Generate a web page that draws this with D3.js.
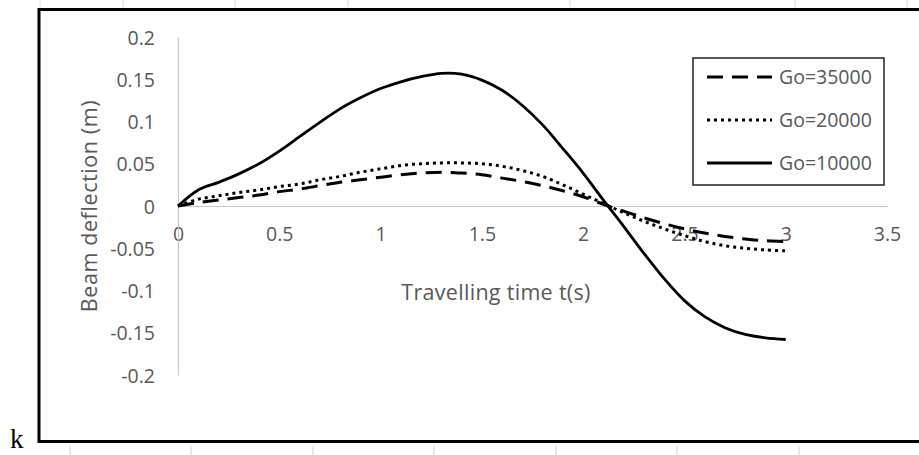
<!DOCTYPE html>
<html><head><meta charset="utf-8">
<script src="https://cdn.jsdelivr.net/npm/d3@7"></script>
<style>
html,body{margin:0;padding:0;background:#fff;}
svg{display:block;}
</style></head>
<body>
<svg id="chart" width="919" height="455"></svg>
<script>
// ---- data ----
const times = [0,0.1,0.2,0.3,0.4,0.5,0.6,0.7,0.8,0.9,1.0,1.1,1.2,1.3,1.4,1.5,1.6,1.7,1.8,1.9,2.0,2.1,2.2,2.3,2.4,2.5,2.6,2.7,2.8,2.9,3.0];
const go35000 = [0,0.004,0.007,0.010,0.013,0.017,0.020,0.024,0.028,0.031,0.034,0.037,0.039,0.040,0.039,0.037,0.033,0.029,0.024,0.018,0.011,0.002,-0.006,-0.014,-0.021,-0.027,-0.032,-0.036,-0.039,-0.041,-0.042];
const go20000 = [0,0.008,0.012,0.016,0.019,0.023,0.026,0.031,0.035,0.040,0.044,0.048,0.050,0.051,0.051,0.050,0.047,0.042,0.035,0.025,0.014,0.003,-0.008,-0.018,-0.027,-0.035,-0.042,-0.047,-0.050,-0.052,-0.053];
const go10000 = [0,0.019,0.028,0.038,0.050,0.065,0.082,0.099,0.115,0.128,0.139,0.147,0.153,0.157,0.156,0.149,0.137,0.119,0.096,0.068,0.039,0.007,-0.024,-0.056,-0.086,-0.112,-0.131,-0.144,-0.152,-0.156,-0.158];
const seriesNames = ["Go=35000","Go=20000","Go=10000"];
const xTicks = [0,0.5,1,1.5,2,2.5,3,3.5];
const xTickLabels = ["0","0.5","1","1.5","2","2.5","3","3.5"];
const yTicks = [0.2,0.15,0.1,0.05,0,-0.05,-0.1,-0.15,-0.2];
const yTickLabels = ["0.2","0.15","0.1","0.05","0","-0.05","-0.1","-0.15","-0.2"];
const xTitle = "Travelling time t(s)";
const yTitle = "Beam deflection (m)";

// ---- drawing ----
const svg = d3.select("#chart");
const FONT = "'Open Sans', 'DejaVu Sans', sans-serif";
const GRAY = "#595959";

const x = d3.scaleLinear().domain([0,3.5]).range([178,887]);
const y = d3.scaleLinear().domain([-0.2,0.2]).range([375,37]);

// faint crop marks outside frame
const bottomMarks = [70,191,313,434,556,677,799];
svg.selectAll("line.bm").data(bottomMarks).enter().append("line")
  .attr("x1",d=>d).attr("x2",d=>d).attr("y1",446).attr("y2",455)
  .attr("stroke","#d0d0d0").attr("stroke-width",1);
const topMarks = [40,123,235,348,570,795,907];
svg.selectAll("line.tm").data(topMarks).enter().append("line")
  .attr("x1",d=>d).attr("x2",d=>d).attr("y1",0).attr("y2",7)
  .attr("stroke","#d8d8d8").attr("stroke-width",1);

// outer frame
svg.append("rect").attr("x",39).attr("y",9.5).attr("width",900).attr("height",432)
  .attr("fill","none").attr("stroke","#000").attr("stroke-width",3);

// stray letter
svg.append("text").attr("x",10).attr("y",448)
  .attr("font-family","'Liberation Serif','DejaVu Serif',serif").attr("font-size",27)
  .attr("fill","#000").text("k");

// x axis
const xAxis = d3.axisBottom(x).tickValues(xTicks)
  .tickFormat((d,i)=>xTickLabels[i]).tickSize(0).tickSizeOuter(0);
const gx = svg.append("g").attr("transform",`translate(0,${y(0)})`).call(xAxis);
gx.select(".domain").attr("stroke","#c8c8c8").attr("stroke-width",1.2);
gx.selectAll("text").attr("y",35).attr("dy",0)
  .attr("font-family",FONT).attr("font-size",19.5).attr("fill",GRAY);

// y axis
const yAxis = d3.axisLeft(y).tickValues(yTicks)
  .tickFormat((d,i)=>yTickLabels[i]).tickSize(0).tickSizeOuter(0);
const gy = svg.append("g").attr("transform",`translate(${x(0)},0)`).call(yAxis);
gy.select(".domain").attr("stroke","#c8c8c8").attr("stroke-width",1.2);
gy.selectAll("text").attr("x",-23).attr("dy","0.36em")
  .attr("font-family",FONT).attr("font-size",19.5).attr("fill",GRAY);

// axis titles
svg.append("text").attr("x",496).attr("y",300).attr("text-anchor","middle")
  .attr("font-family",FONT).attr("font-size",21.5).attr("letter-spacing",0.3)
  .attr("fill",GRAY).text(xTitle);
svg.append("text").attr("transform","translate(97,206) rotate(-90)")
  .attr("text-anchor","middle")
  .attr("font-family",FONT).attr("font-size",21.5).attr("letter-spacing",0.6)
  .attr("fill",GRAY).text(yTitle);

// series
const styles = [
  {dash:"16,9", width:3},
  {dash:"3,4", width:3},
  {dash:null, width:2.8}
];
const allSeries = [go35000, go20000, go10000];
const line = d3.line().x((d,i)=>x(times[i])).y(d=>y(d)).curve(d3.curveCatmullRom.alpha(0.5));
allSeries.forEach((vals,k)=>{
  svg.append("path").datum(vals).attr("d",line)
    .attr("fill","none").attr("stroke","#000")
    .attr("stroke-width",styles[k].width)
    .attr("stroke-dasharray",styles[k].dash)
    .attr("stroke-linejoin","round");
});

// legend
const lg = svg.append("g");
lg.append("rect").attr("x",693).attr("y",58).attr("width",191).attr("height",127)
  .attr("fill","#fff").attr("stroke","#222").attr("stroke-width",1.5);
const legY = [77,120,163];
seriesNames.forEach((name,k)=>{
  lg.append("line").attr("x1",707).attr("x2",772).attr("y1",legY[k]).attr("y2",legY[k])
    .attr("stroke","#000").attr("stroke-width",styles[k].width)
    .attr("stroke-dasharray",styles[k].dash);
  lg.append("text").attr("x",779).attr("y",legY[k]).attr("dy","0.36em")
    .attr("font-family",FONT).attr("font-size",19.5).attr("fill",GRAY).text(name);
});
</script>
</body></html>
